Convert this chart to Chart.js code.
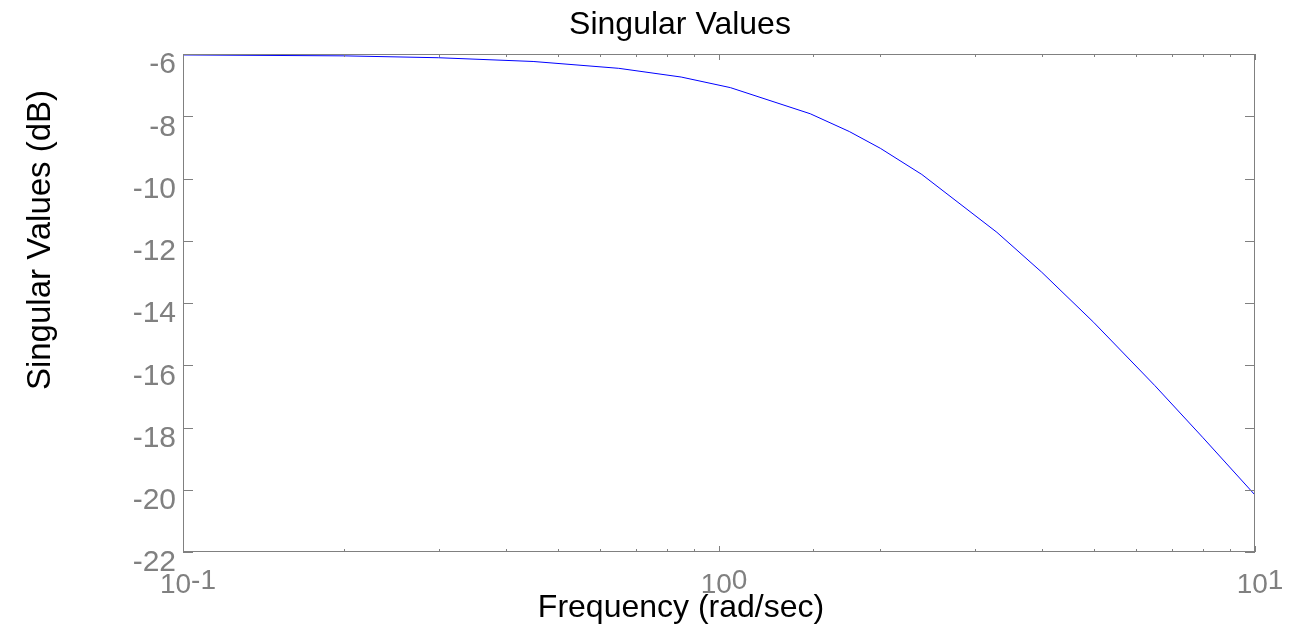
<!DOCTYPE html>
<html>
<head>
<meta charset="utf-8">
<title>Singular Values</title>
<script src="https://cdn.jsdelivr.net/npm/chart.js@4"></script>
<style>
  html, body { margin: 0; padding: 0; background: #fff; }
  #wrap { width: 1300px; height: 632px; }
</style>
</head>
<body>
<div id="wrap"><canvas id="sv-chart" width="1300" height="632"></canvas></div>
<script>
// values
var frequencies = [0.1, 0.2, 0.3, 0.45, 0.65, 0.85, 1.05, 1.48, 1.75, 2.0, 2.39, 3.3, 4.0, 5.0, 6.5, 8.0, 10];
var singularValues = [-6.03, -6.06, -6.12, -6.24, -6.46, -6.74, -7.08, -7.92, -8.49, -9.03, -9.87, -11.73, -13.01, -14.62, -16.65, -18.33, -20.17];
var xTickValues = [0.1, 1, 10];
var xTickExponents = ['-1', '0', '1'];
var yTickValues = [-22, -20, -18, -16, -14, -12, -10, -8, -6];

var FONT = '"Liberation Sans", Arial, Helvetica, sans-serif';
var GREY = '#808080';

var points = frequencies.map(function (f, i) {
    return { x: f, y: singularValues[i] };
});

// box, inward ticks, x labels and titles (MATLAB look)
var matlabAxes = {
    id: 'matlabAxes',
    afterDraw: function (chart) {
        var ctx = chart.ctx;
        var a = chart.chartArea;
        var xs = chart.scales.x;
        var ys = chart.scales.y;
        ctx.save();
        ctx.strokeStyle = GREY;
        ctx.lineWidth = 1;
        ctx.strokeRect(a.left + 0.5, a.top + 0.5, a.right - a.left - 1, a.bottom - a.top - 1);

        ctx.beginPath();
        yTickValues.forEach(function (v) {
            var y = Math.round(ys.getPixelForValue(v)) + 0.5;
            ctx.moveTo(a.left, y); ctx.lineTo(a.left + 10, y);
            ctx.moveTo(a.right, y); ctx.lineTo(a.right - 10, y);
        });
        xs.ticks.forEach(function (t) {
            var x = Math.round(xs.getPixelForValue(t.value)) + 0.5;
            var major = xTickValues.indexOf(t.value) >= 0;
            var len = major ? 6 : 3;
            ctx.moveTo(x, a.bottom); ctx.lineTo(x, a.bottom - len);
            ctx.moveTo(x, a.top); ctx.lineTo(x, a.top + len);
        });
        ctx.stroke();

        // x tick labels 10^n
        ctx.fillStyle = GREY;
        ctx.font = '28px ' + FONT;
        ctx.textBaseline = 'alphabetic';
        ctx.textAlign = 'left';
        xTickValues.forEach(function (v, i) {
            var x = xs.getPixelForValue(v);
            var wBase = ctx.measureText('10').width;
            var wExp = ctx.measureText(xTickExponents[i]).width;
            var start = x + 5 - (wBase + wExp) / 2;
            ctx.fillText('10', start, a.bottom + 41);
            ctx.fillText(xTickExponents[i], start + wBase, a.bottom + 37);
        });

        // titles
        ctx.fillStyle = '#000';
        ctx.textAlign = 'center';
        ctx.textBaseline = 'middle';
        ctx.font = '32px ' + FONT;
        ctx.fillText('Singular Values', 680, 25);
        ctx.font = '32px ' + FONT;
        ctx.fillText('Frequency (rad/sec)', 681, 608);
        ctx.translate(41, 240);
        ctx.rotate(-Math.PI / 2);
        ctx.font = '33px ' + FONT;
        ctx.fillText('Singular Values (dB)', 0, 0);
        ctx.restore();
    }
};

var ctx = document.getElementById('sv-chart').getContext('2d');
var svChart = new Chart(ctx, {
    type: 'scatter',
    data: {
        datasets: [{
            label: 'Singular Values',
            data: points,
            showLine: true,
            borderColor: '#0000ff',
            backgroundColor: '#0000ff',
            borderWidth: 1,
            pointRadius: 0,
            tension: 0
        }]
    },
    options: {
        responsive: false,
        animation: false,
        layout: { padding: { top: 54, right: 45, bottom: 0, left: 0 } },
        plugins: {
            legend: { display: false },
            title: { display: false },
            tooltip: { enabled: false }
        },
        scales: {
            x: {
                type: 'logarithmic',
                min: 0.1,
                max: 10,
                grid: { display: false },
                border: { display: false },
                ticks: { display: false },
                afterFit: function (scale) { scale.height = 80; }
            },
            y: {
                min: -22,
                max: -6,
                grid: { display: false, drawTicks: false },
                border: { display: false },
                ticks: {
                    stepSize: 2,
                    color: GREY,
                    padding: 7,
                    labelOffset: 11,
                    font: { family: FONT, size: 30 }
                },
                afterFit: function (scale) { scale.width = 183; }
            }
        }
    },
    plugins: [matlabAxes]
});
</script>
</body>
</html>
